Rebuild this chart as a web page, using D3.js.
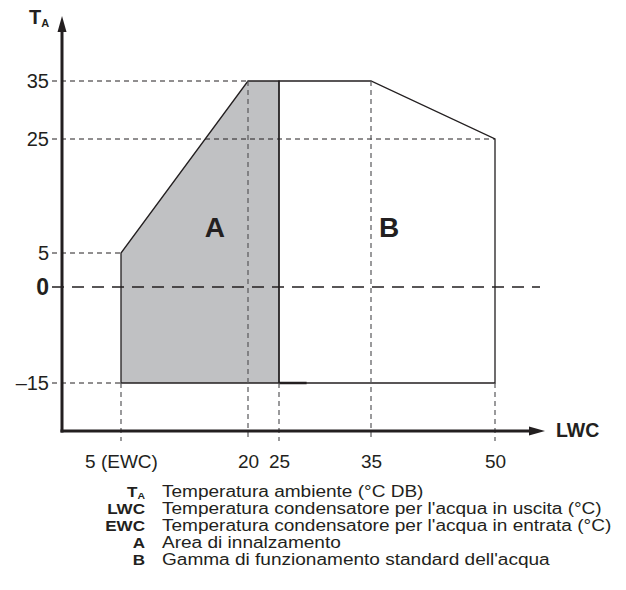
<!DOCTYPE html>
<html>
<head>
<meta charset="utf-8">
<script src="https://cdn.jsdelivr.net/npm/d3@7"></script>
<style>
  body { margin: 0; background: #fff; }
  text { font-family: "Liberation Sans", Arial, sans-serif; fill: #231f20; }
</style>
</head>
<body>
<script>
// ticks on the two axes
var xTicks = [5, 20, 25, 35, 50];
var xTickLabels = ["5 (EWC)", "20", "25", "35", "50"];
var yTicks = [-15, 0, 5, 25, 35];

// operating areas, [LWC, TA]
var areaA = [[5, -15], [5, 5], [20, 35], [25, 35], [25, -15]];
var areaB = [[25, -15], [25, 35], [35, 35], [50, 25], [50, -15]];
var areaLabels = [["A", 16.1, 9.5], ["B", 37.2, 9.5]];
var heavyEdge = [[25, -15], [28, -15]];

// legend
var legendKeys = ["T", "LWC", "EWC", "A", "B"];
var legendTexts = [
  "Temperatura ambiente (°C DB)",
  "Temperatura condensatore per l'acqua in uscita (°C)",
  "Temperatura condensatore per l'acqua in entrata (°C)",
  "Area di innalzamento",
  "Gamma di funzionamento standard dell'acqua"
];

var w = 626, h = 590;
var x0 = 62, yAxisPos = 431;

var svg = d3.select("body").append("svg")
  .attr("width", w)
  .attr("height", h);

// the drawing is not to scale, so the scales are piecewise
var x = d3.scaleLinear()
  .domain(xTicks)
  .range([121, 248, 279, 371, 495]);

var y = d3.scaleLinear()
  .domain(yTicks)
  .range([383, 287, 253, 139, 81]);

var line = d3.line()
  .x(function(d){ return x(d[0]); })
  .y(function(d){ return y(d[1]); });

// areas
svg.append("path")
  .attr("d", line(areaA) + "Z")
  .attr("fill", "#c0c1c3")
  .attr("stroke", "#231f20")
  .attr("stroke-width", 1.3);

svg.append("path")
  .attr("d", line(areaB) + "Z")
  .attr("fill", "none")
  .attr("stroke", "#231f20")
  .attr("stroke-width", 1.3);

svg.append("path")
  .attr("d", line(heavyEdge))
  .attr("stroke", "#231f20")
  .attr("stroke-width", 2.5);

// dashed guide lines
var hGuides = [[35, 20], [25, 50], [5, 5], [-15, 5]];
svg.selectAll(".hguide")
  .data(hGuides)
  .enter()
  .append("line")
  .attr("x1", 52)
  .attr("x2", function(d){ return x(d[1]); })
  .attr("y1", function(d){ return y(d[0]); })
  .attr("y2", function(d){ return y(d[0]); })
  .attr("stroke", "#231f20")
  .attr("stroke-width", 1)
  .attr("stroke-dasharray", "5,4");

var vGuides = [[5, -15], [20, 35], [25, -15], [35, 35], [50, -15]];
svg.selectAll(".vguide")
  .data(vGuides)
  .enter()
  .append("line")
  .attr("x1", function(d){ return x(d[0]); })
  .attr("x2", function(d){ return x(d[0]); })
  .attr("y1", function(d){ return y(d[1]); })
  .attr("y2", 441)
  .attr("stroke", "#58585a")
  .attr("stroke-width", 1.2)
  .attr("stroke-dasharray", "5,4");

// zero line
svg.append("line")
  .attr("x1", 52)
  .attr("x2", 540)
  .attr("y1", y(0))
  .attr("y2", y(0))
  .attr("stroke", "#231f20")
  .attr("stroke-width", 1.5)
  .attr("stroke-dasharray", "12,8");

// axes with arrows
svg.append("line")
  .attr("x1", x0).attr("y1", yAxisPos + 1.5)
  .attr("x2", x0).attr("y2", 28)
  .attr("stroke", "#231f20").attr("stroke-width", 3);
svg.append("path")
  .attr("d", "M" + x0 + ",16L" + (x0 - 4.5) + ",32L" + (x0 + 4.5) + ",32Z")
  .attr("fill", "#231f20");

svg.append("line")
  .attr("x1", x0 - 1.5).attr("y1", yAxisPos)
  .attr("x2", 532).attr("y2", yAxisPos)
  .attr("stroke", "#231f20").attr("stroke-width", 3);
svg.append("path")
  .attr("d", "M545," + yAxisPos + "L529," + (yAxisPos - 4.5) + "L529," + (yAxisPos + 4.5) + "Z")
  .attr("fill", "#231f20");

// tick labels
var xAxis = svg.append("g")
  .attr("transform", "translate(0," + yAxisPos + ")")
  .call(d3.axisBottom(x).tickValues(xTicks)
    .tickFormat(function(d, i){ return xTickLabels[i]; })
    .tickSize(0).tickPadding(24));
xAxis.select(".domain").remove();
xAxis.selectAll("text")
  .attr("font-size", "19px")
  .attr("font-family", null)
  .attr("fill", null);

var yAxis = svg.append("g")
  .attr("transform", "translate(" + x0 + ",0)")
  .call(d3.axisLeft(y).tickValues(yTicks)
    .tickFormat(function(d){ return d < 0 ? "\u2013" + Math.abs(d) : d; })
    .tickSize(0).tickPadding(13));
yAxis.select(".domain").remove();
yAxis.selectAll("text")
  .attr("font-size", function(d){ return d === 0 ? "23px" : "20px"; })
  .attr("font-weight", function(d){ return d === 0 ? "bold" : null; })
  .attr("font-family", null)
  .attr("fill", null);

// axis titles
var ta = svg.append("text")
  .attr("x", 29).attr("y", 24)
  .attr("font-size", "20px").attr("font-weight", "bold");
ta.append("tspan").text("T");
ta.append("tspan").attr("font-size", "11px").attr("dy", 3).text("A");

svg.append("text")
  .attr("x", 556).attr("y", 437)
  .attr("font-size", "19.5px").attr("font-weight", "bold")
  .text("LWC");

// area letters
svg.selectAll(".arealabel")
  .data(areaLabels)
  .enter()
  .append("text")
  .attr("x", function(d){ return x(d[1]); })
  .attr("y", function(d){ return y(d[2]); })
  .attr("text-anchor", "middle")
  .attr("dy", "0.36em")
  .attr("font-size", "28px")
  .attr("font-weight", "bold")
  .text(function(d){ return d[0]; });

// legend (the printed type is a little wider than it is tall)
var leg = svg.append("g");
legendKeys.forEach(function(k, i){
  var yy = 497 + i * 17;
  var t = leg.append("text")
    .attr("transform", "translate(145," + yy + ") scale(1.1,1)")
    .attr("text-anchor", "end")
    .attr("font-size", "15.5px")
    .attr("font-weight", "bold");
  t.append("tspan").text(k);
  if (k === "T") t.append("tspan").attr("font-size", "9.5px").attr("dy", 2).text("A");
  leg.append("text")
    .attr("transform", "translate(162," + yy + ") scale(1.19,1)")
    .attr("font-size", "16px")
    .text(legendTexts[i]);
});
</script>
</body>
</html>
